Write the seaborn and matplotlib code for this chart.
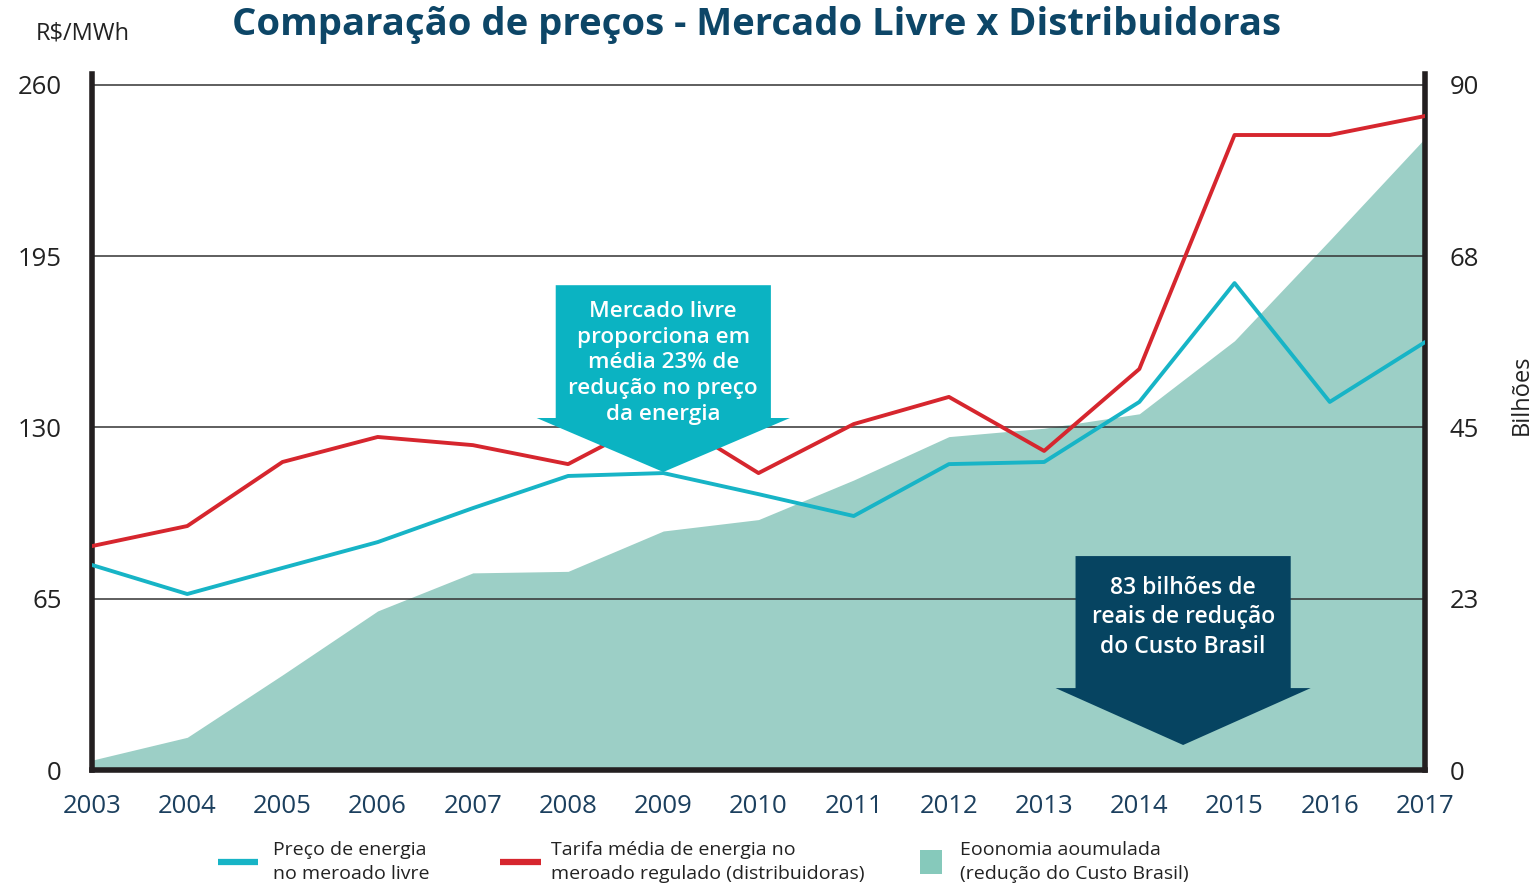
import numpy as np
import pandas as pd
import seaborn as sns
import matplotlib.pyplot as plt
from matplotlib.lines import Line2D
from matplotlib.patches import Rectangle, Polygon

# dados
anos = [2003, 2004, 2005, 2006, 2007, 2008, 2009, 2010,
        2011, 2012, 2013, 2014, 2015, 2016, 2017]
preco_livre = [77.8, 66.8, 76.7, 86.5, 99.4, 111.6, 112.7, 104.7,
               96.4, 116.1, 116.9, 139.7, 184.8, 139.7, 162.4]
tarifa_regulado = [85.0, 92.6, 116.9, 126.4, 123.3, 116.1, 135.0, 112.7,
                   131.3, 141.6, 121.1, 152.2, 241.0, 241.0, 248.2]
economia_acumulada = [1.3, 4.3, 12.5, 20.9, 25.9, 26.1, 31.4, 32.9,
                      38.1, 43.8, 44.9, 46.8, 56.4, 69.6, 83.0]
ticks_esq = [0, 65, 130, 195, 260]
ticks_dir = [0, 22.5, 45, 67.5, 90]
labels_dir = ['0', '23', '45', '68', '90']

df = pd.DataFrame({'ano': anos, 'livre': preco_livre,
                   'regulado': tarifa_regulado, 'economia': economia_acumulada})

azul = '#17b4c6'
vermelho = '#d6262e'
verde = '#9ccfc6'
teal_caixa = '#0bb3c2'
navy = '#064461'
titulo_cor = '#0d4667'

sns.set_theme(style='white')
plt.rcParams['font.family'] = ['Open Sans', 'DejaVu Sans']

fig = plt.figure(figsize=(15.37, 8.9), dpi=100)
ax = fig.add_axes([0.0599, 0.1348, 0.8672, 0.7816])
ax2 = ax.twinx()

# área (eixo da direita) atrás das linhas
ax2.fill_between(df['ano'], df['economia'], color=verde, lw=0)
ymax = 264
ax2.set_ylim(0, ymax * 90 / 260)
ax2.set_yticks(ticks_dir)
ax2.set_yticklabels(labels_dir)
ax2.tick_params(axis='y', length=0, pad=18, labelsize=18.5, labelcolor='#222222')

ax.set_zorder(ax2.get_zorder() + 1)
ax.patch.set_visible(False)

for y in ticks_esq[1:]:
    ax.axhline(y, color='#333333', lw=1.1, zorder=1)

sns.lineplot(data=df, x='ano', y='livre', color=azul, lw=2.8, ax=ax, zorder=3)
sns.lineplot(data=df, x='ano', y='regulado', color=vermelho, lw=2.8, ax=ax, zorder=3)

ax.set_xlim(2003, 2017)
ax.set_ylim(0, ymax)
ax.set_xticks(anos)
ax.set_yticks(ticks_esq)
ax.set_xlabel('')
ax.set_ylabel('')
ax.tick_params(axis='y', length=0, pad=22, labelsize=18.5, labelcolor='#222222')
ax.tick_params(axis='x', length=0, pad=17, labelsize=18.5, labelcolor='#1b3f5e')

for a in (ax, ax2):
    for s in a.spines.values():
        s.set_visible(False)
for lado in ('left', 'right', 'bottom'):
    ax.spines[lado].set_visible(True)
    ax.spines[lado].set_color('#231f20')
    ax.spines[lado].set_linewidth(4)
ax.spines['bottom'].set_zorder(6)


def seta(ax, xc, topo, base, ponta, meia_caixa, meia_asa, cor):
    pts = [(xc - meia_caixa, topo), (xc + meia_caixa, topo),
           (xc + meia_caixa, base), (xc + meia_asa, base),
           (xc, ponta), (xc - meia_asa, base), (xc - meia_caixa, base)]
    ax.add_patch(Polygon(pts, closed=True, color=cor, lw=0, zorder=5))


seta(ax, 2009.0, 184, 133.6, 113.1, 1.13, 1.33, teal_caixa)
ax.text(2009.0, 154.5, 'Mercado livre\nproporciona em\nmédia 23% de\nredução no preço\nda energia',
        ha='center', va='center', color='white', fontsize=16.2, fontweight='semibold',
        linespacing=1.3, zorder=6)

seta(ax, 2014.46, 81.2, 31.1, 9.5, 1.13, 1.34, navy)
ax.text(2014.46, 58, '83 bilhões de\nreais de redução\ndo Custo Brasil',
        ha='center', va='center', color='white', fontsize=16.5, fontweight='semibold',
        linespacing=1.3, zorder=6)

fig.text(0.492, 0.972, 'Comparação de preços - Mercado Livre x Distribuidoras',
         ha='center', va='center', fontsize=27.5, fontweight='bold', color=titulo_cor)
fig.text(0.023, 0.962, 'R\\$/MWh', ha='left', va='center', fontsize=17, color='#222222')
fig.text(0.990, 0.556, 'Bilhões', ha='center', va='center', rotation=90,
         fontsize=17, color='#222222')

# legenda montada à mão na parte de baixo
W, H = 1537, 890
y_leg = 1 - 862 / H
fig.add_artist(Line2D([218 / W, 258 / W], [y_leg, y_leg], color=azul, lw=4.5,
                      solid_capstyle='butt', transform=fig.transFigure))
fig.add_artist(Line2D([500 / W, 541 / W], [y_leg, y_leg], color=vermelho, lw=4.5,
                      solid_capstyle='butt', transform=fig.transFigure))
fig.add_artist(Rectangle((920 / W, 1 - 874 / H), 22 / W, 24 / H, color='#86c9bb',
                         lw=0, transform=fig.transFigure))
nomes = ['Preço de energia\nno meroado livre',
         'Tarifa média de energia no\nmeroado regulado (distribuidoras)',
         'Eoonomia aoumulada\n(redução do Custo Brasil)']
for x0, nome in zip([273, 551, 960], nomes):
    fig.text(x0 / W, y_leg, nome, ha='left', va='center', fontsize=14,
             color='#222222', linespacing=1.45)

fig.savefig('out.png', dpi=100)
